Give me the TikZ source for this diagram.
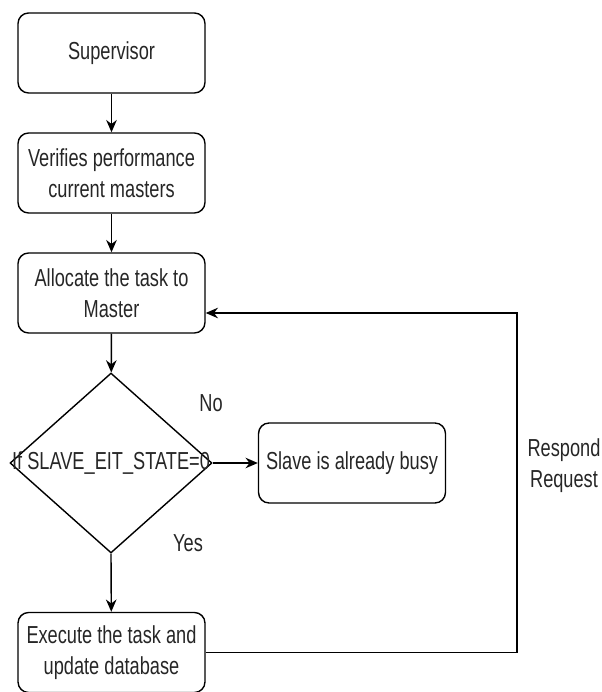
\documentclass[tikz,border=0pt]{standalone}
\usepackage{fontspec}
\setmainfont[FakeStretch=0.74]{Liberation Sans}
\usetikzlibrary{shapes.geometric,arrows.meta}

\begin{document}
\begin{tikzpicture}[x=0.02cm,y=-0.02cm,
    every node/.style={font=\fontsize{14}{17.5}\selectfont, text=black!85},
    stepbox/.style={draw, line width=0.8pt, rounded corners=6pt,
      minimum width=3.74cm, minimum height=1.6cm, align=center, inner sep=0pt},
    decision/.style={draw, diamond, line width=0.8pt,
      minimum width=4.04cm, minimum height=3.6cm, inner sep=0pt},
    arr/.style={-{Stealth[length=7pt,width=6pt]}, line width=0.8pt}]
      \useasboundingbox (0,0) rectangle (601,692);

      % Main column
      \node[stepbox] (sup) at (111.5,53) {Supervisor};
      \node[stepbox] (verify) at (111.5,173) {Verifies performance\\current masters};
      \node[stepbox] (alloc) at (111.5,293) {Allocate the task to\\Master};

      % Decision
      \node[decision, label={center:If SLAVE\_EIT\_STATE=0}] (cond) at (111,463) {};

      % Outcomes
      \node[stepbox] (busy) at (352,463) {Slave is already busy};
      \node[stepbox] (exec) at (111.5,652.5) {Execute the task and\\update database};

      % Arrows
      \draw[arr] (sup) -- (verify);
      \draw[arr] (verify) -- (alloc);
      \draw[arr] (alloc) -- (cond);
      \draw[arr] (cond.east) -- (busy);
      \draw[arr] (cond.south) -- (exec);

      % Feedback loop
      \coordinate (back) at (517,313);
      \draw[arr] (exec.east) -| (back) -- (alloc.east |- back);

      % Labels
      \node (no) at (211,403) {No};
      \node (yes) at (188,543) {Yes};
      \node[align=center] (respond) at (564,466) {Respond\\Request};
    \end{tikzpicture}
\end{document}
